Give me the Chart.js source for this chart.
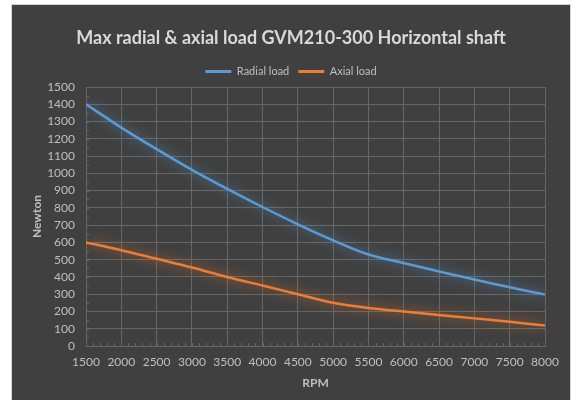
<!DOCTYPE html>
<html>
<head>
<meta charset="utf-8">
<title>Max radial & axial load GVM210-300 Horizontal shaft</title>
<script src="https://cdn.jsdelivr.net/npm/chart.js@4"></script>
<style>
  html, body { margin: 0; padding: 0; background: #ffffff; }
  #frame {
    position: absolute; left: 11px; top: 4px;
    width: 558px; height: 395px;
    background: #404040; border: 1px solid #d4d4d4;
  }
  #frame canvas { display: block; }
</style>
</head>
<body>
<div id="frame"><canvas id="chart" width="558" height="395"></canvas></div>
<script>
// Shaft speed (RPM) and the permitted loads (N) at each speed
const rpm = [1500, 2000, 2500, 3000, 3500, 4000, 4500, 5000, 5500, 6000, 6500, 7000, 7500, 8000];
const radialLoad = [1400, 1265, 1140, 1020, 910, 805, 705, 612, 530, 480, 432, 385, 340, 298];
const axialLoad = [600, 555, 505, 455, 400, 350, 300, 250, 220, 200, 180, 160, 140, 118];

const seriesNames = ['Radial load', 'Axial load'];
const seriesColors = ['#5b9bd5', '#ed7d31'];
const glowColors = ['rgba(91,155,213,0.85)', 'rgba(237,125,49,0.85)'];

const xRange = { min: 1500, max: 8000, step: 500, minor: 100 };
const yRange = { min: 0, max: 1500, step: 100, minor: 50 };

const textColor = '#bfbfbf';
const gridColor = '#666666';

Chart.defaults.font.family = 'Lato, "Open Sans", sans-serif';
Chart.defaults.color = textColor;

const toPoints = values => values.map((v, i) => ({ x: rpm[i], y: v }));

// Soft glow around each series line
const lineGlow = {
  id: 'lineGlow',
  beforeDatasetDraw(chart, args) {
    const ctx = chart.ctx;
    ctx.save();
    ctx.shadowColor = glowColors[args.index];
    ctx.shadowBlur = 12;
  },
  afterDatasetDraw(chart) {
    chart.ctx.restore();
  }
};

// Small inward minor tick marks along both axes
const minorTicks = {
  id: 'minorTicks',
  beforeDatasetsDraw(chart) {
    const { ctx, chartArea, scales } = chart;
    ctx.save();
    ctx.strokeStyle = gridColor;
    ctx.lineWidth = 1;
    ctx.beginPath();
    for (let v = xRange.min; v <= xRange.max; v += xRange.minor) {
      const px = Math.round(scales.x.getPixelForValue(v)) + 0.5;
      ctx.moveTo(px, chartArea.bottom);
      ctx.lineTo(px, chartArea.bottom - 3);
    }
    for (let v = yRange.min; v <= yRange.max; v += yRange.minor) {
      const py = Math.round(scales.y.getPixelForValue(v)) + 0.5;
      ctx.moveTo(chartArea.left, py);
      ctx.lineTo(chartArea.left + 3, py);
    }
    ctx.stroke();
    ctx.restore();
  }
};

new Chart(document.getElementById('chart'), {
  type: 'line',
  data: {
    datasets: [
      {
        label: seriesNames[0],
        data: toPoints(radialLoad),
        borderColor: seriesColors[0],
        backgroundColor: seriesColors[0],
        borderWidth: 2.5,
        pointRadius: 0,
        tension: 0.3
      },
      {
        label: seriesNames[1],
        data: toPoints(axialLoad),
        borderColor: seriesColors[1],
        backgroundColor: seriesColors[1],
        borderWidth: 2.5,
        pointRadius: 0,
        tension: 0.3
      }
    ]
  },
  options: {
    responsive: false,
    animation: false,
    events: [],
    layout: { padding: 0 },
    plugins: {
      title: {
        display: true,
        text: 'Max radial & axial load GVM210-300 Horizontal shaft',
        color: '#d9d9d9',
        font: { size: 18, weight: 'bold' },
        padding: { top: 11, bottom: 8 }
      },
      legend: {
        display: true,
        labels: {
          boxWidth: 26,
          boxHeight: 3,
          padding: 9,
          color: textColor,
          font: { size: 11 },
          generateLabels(chart) {
            return chart.data.datasets.map((ds, i) => ({
              text: ds.label,
              fillStyle: seriesColors[i],
              strokeStyle: seriesColors[i],
              lineWidth: 0,
              datasetIndex: i,
              fontColor: textColor
            }));
          }
        }
      },
      tooltip: { enabled: false }
    },
    scales: {
      x: {
        type: 'linear',
        min: xRange.min,
        max: xRange.max,
        ticks: { stepSize: xRange.step, padding: 9, font: { size: 12 }, color: textColor, maxRotation: 0,
                 autoSkip: false, callback: v => String(v) },
        grid: { color: gridColor, drawTicks: false },
        border: { color: gridColor },
        title: { display: true, text: 'RPM', color: textColor, font: { size: 12, weight: 'bold' },
                 padding: { top: 0, bottom: 10 } },
        afterFit(scale) {
          scale.height = 54;
          scale.paddingRight = 25;
        }
      },
      y: {
        min: yRange.min,
        max: yRange.max,
        ticks: { stepSize: yRange.step, padding: 11, font: { size: 12 }, color: textColor,
                 autoSkip: false, callback: v => String(v) },
        grid: { color: gridColor, drawTicks: false },
        border: { color: gridColor },
        title: { display: true, text: 'Newton', color: textColor, font: { size: 12, weight: 'bold' },
                 padding: { top: 18, bottom: 0 } },
        afterFit(scale) {
          scale.width = 74;
          scale.paddingTop = 82;
        }
      }
    }
  },
  plugins: [minorTicks, lineGlow]
});
</script>
</body>
</html>
